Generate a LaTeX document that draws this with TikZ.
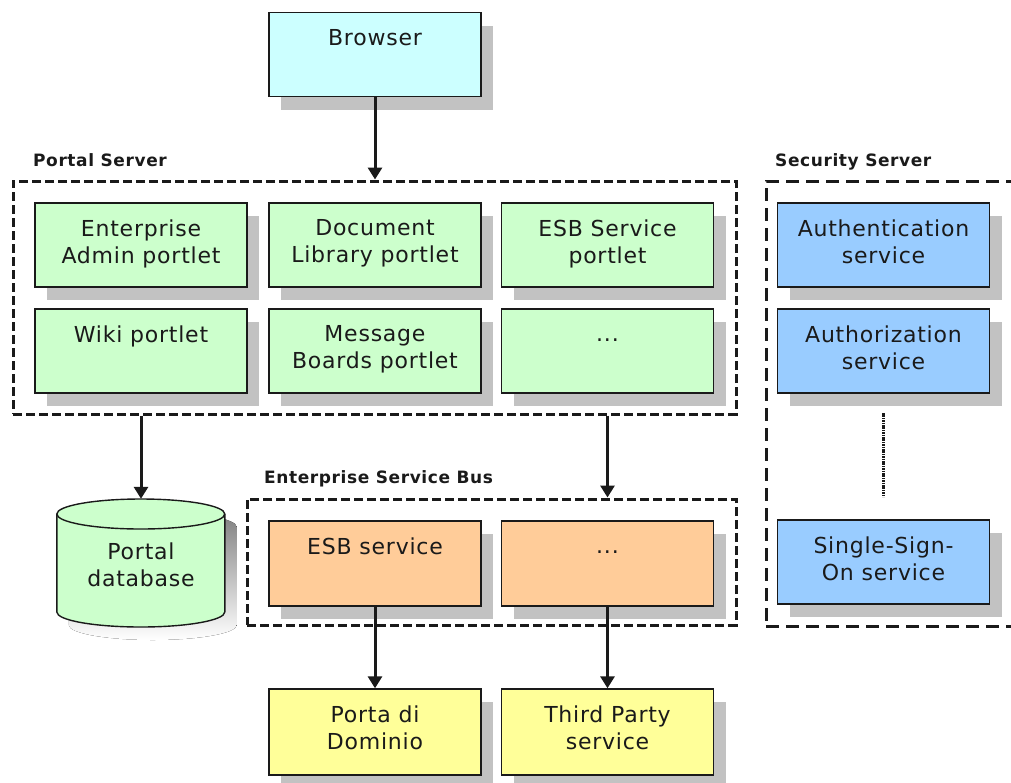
\documentclass[tikz,border=0pt]{standalone}
\usepackage{fontspec}
\setmainfont{DejaVu Sans}[LetterSpace=3.5]
\usetikzlibrary{arrows.meta,shadows,calc}

\definecolor{cyanbox}{HTML}{CCFFFF}
\definecolor{greenbox}{HTML}{CCFFCC}
\definecolor{bluebox}{HTML}{99CCFF}
\definecolor{orangebox}{HTML}{FFCC99}
\definecolor{yellowbox}{HTML}{FFFF99}
\definecolor{shade}{HTML}{C2C2C2}
\definecolor{ink}{HTML}{1A1A1A}

\tikzset{
  comp/.style={draw=ink, line width=1.4pt, minimum width=212pt, minimum height=84pt,
    inner sep=0pt,
    drop shadow={shadow xshift=12pt, shadow yshift=-13pt, fill=shade, opacity=1, draw=none}},
  caption/.style={anchor=north, yshift=-17pt, align=center, inner sep=0pt,
    text=ink, font=\fontsize{22}{27}\selectfont},
  group/.style={draw=ink, line width=3pt, dash pattern=on 9pt off 4pt, inner sep=0pt},
  widegroup/.style={draw=ink, line width=3pt, dash pattern=on 13pt off 7pt, inner sep=0pt},
  grouptitle/.style={anchor=base west, inner sep=0pt, text=ink,
    font=\bfseries\fontsize{17}{20}\selectfont},
  flow/.style={draw=ink, line width=3pt, -{Triangle[width=14pt,length=12pt]}},
}

\begin{document}
\begin{tikzpicture}[x=1pt,y=-1pt]
\useasboundingbox (0,0) rectangle (1011,782);
\begin{scope}
\clip (0,0) rectangle (1011,782);

% container boxes
\node[group, minimum width=723pt, minimum height=233pt] (portal) at (374.5,297.5) {};
\node[group, minimum width=489pt, minimum height=126pt] (esb) at (491.5,562) {};
\node[widegroup, minimum width=264pt, minimum height=445pt] (security) at (898,403.5) {};

\node[grouptitle] (portal-t) at (33,166) {Portal Server};
\node[grouptitle] (esb-t) at (264,483) {Enterprise Service Bus};
\node[grouptitle] (security-t) at (775,166) {Security Server};

% browser
\node[comp, fill=cyanbox] (browser) at (375,54.5) {};
\node[caption] (browser-t) at (browser.north) {Browser};

% portlets
\node[comp, fill=greenbox] (ent) at (141,245) {};
\node[caption] (ent-t) at (ent.north) {Enterprise\\Admin portlet};
\node[comp, fill=greenbox] (doc) at (375,245) {};
\node[caption] (doc-t) at (doc.north) {Document\\Library portlet};
\node[comp, fill=greenbox] (esbp) at (607.5,245) {};
\node[caption] (esbp-t) at (esbp.north) {ESB Service\\portlet};
\node[comp, fill=greenbox] (wiki) at (141,351) {};
\node[caption] (wiki-t) at (wiki.north) {Wiki portlet};
\node[comp, fill=greenbox] (mb) at (375,351) {};
\node[caption] (mb-t) at (mb.north) {Message\\Boards portlet};
\node[comp, fill=greenbox] (more) at (607.5,351) {};
\node[caption] (more-t) at (more.north) {\vphantom{B}...};

% security services
\node[comp, fill=bluebox] (authn) at (883.5,245) {};
\node[caption] (authn-t) at (authn.north) {Authentication\\service};
\node[comp, fill=bluebox] (authz) at (883.5,351) {};
\node[caption] (authz-t) at (authz.north) {Authorization\\service};
\node[comp, fill=bluebox] (sso) at (883.5,562) {};
\node[caption] (sso-t) at (sso.north) {Single-Sign-\\On service};
\coordinate (gapA) at (883.5,413);
\coordinate (gapB) at (883.5,497);
\draw[ink, line width=2.6pt, dash pattern=on 1.6pt off 0.8pt] (gapA) -- (gapB);

% ESB services
\node[comp, fill=orangebox, minimum height=85pt] (esbs) at (375,563.5) {};
\node[caption] (esbs-t) at (esbs.north) {ESB service};
\node[comp, fill=orangebox, minimum height=85pt] (esbmore) at (607.5,563.5) {};
\node[caption] (esbmore-t) at (esbmore.north) {\vphantom{B}...};

% external endpoints
\node[comp, fill=yellowbox, minimum height=86pt] (pdd) at (375,732) {};
\node[caption] (pdd-t) at (pdd.north) {Porta di\\Dominio};
\node[comp, fill=yellowbox, minimum height=86pt] (tps) at (607.5,732) {};
\node[caption] (tps-t) at (tps.north) {Third Party\\service};

% portal database cylinder
\node[inner sep=0pt, minimum width=168pt, minimum height=128pt] (db) at (141,563) {};
\fill[shade] ($(db.west)+(12,-49+13)$) -- ++(0,98)
  arc[start angle=180, end angle=360, x radius=84pt, y radius=15pt] -- ++(0,-98)
  arc[start angle=0, end angle=180, x radius=84pt, y radius=15pt] -- cycle;
\draw[ink, line width=1.4pt, fill=greenbox] ($(db.west)+(0,-49)$) -- ++(0,98)
  arc[start angle=180, end angle=360, x radius=84pt, y radius=15pt] -- ++(0,-98)
  arc[start angle=0, end angle=180, x radius=84pt, y radius=15pt] -- cycle;
\draw[ink, line width=1.4pt] ($(db.west)+(0,-49)$)
  arc[start angle=180, end angle=360, x radius=84pt, y radius=15pt];
\node[caption, yshift=17pt] (db-t) at (141,543) {Portal\\database};

% connectors
\draw[flow] (browser.south) -- (browser.south |- portal.north);
\draw[flow] (portal.south -| db.north) -- (db.north);
\draw[flow] (portal.south -| esbmore.north) -- (esb.north -| esbmore.north);
\draw[flow] (esbs.south) -- (pdd.north);
\draw[flow] (esbmore.south) -- (tps.north);
\end{scope}
\end{tikzpicture}
\end{document}
